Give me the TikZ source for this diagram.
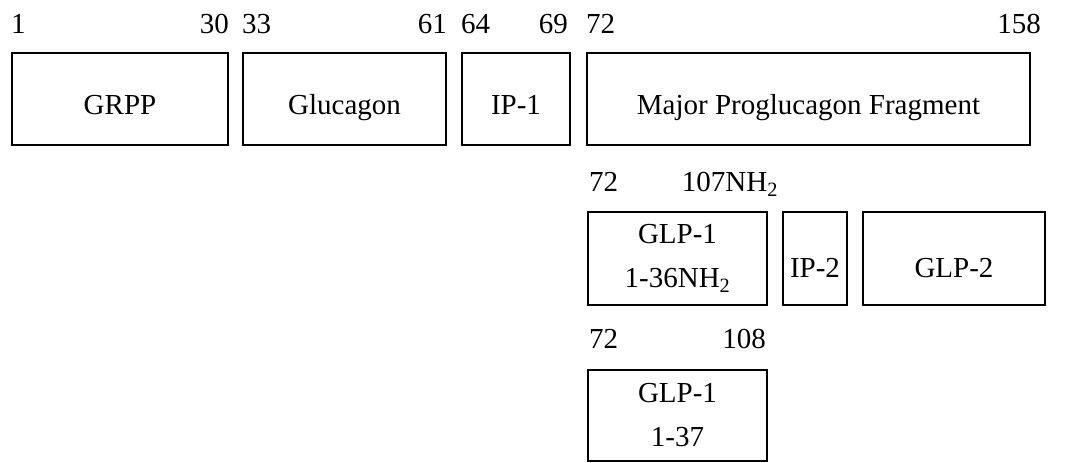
\documentclass[tikz,border=0pt]{standalone}
\usepackage{fontspec}
\setmainfont{Liberation Serif}
\usetikzlibrary{positioning}
\tikzset{
  segbox/.style={draw=black,line width=2.2pt,inner sep=0pt,
    minimum height=92pt,align=center},
  oneline/.style={text height=34pt,text depth=2pt},
  numleft/.style={anchor=base west,inner sep=0pt},
  numright/.style={anchor=base east,inner sep=0pt},
}

\begin{document}
\begin{tikzpicture}[x=1pt,y=1pt,font=\fontsize{29}{44}\selectfont]
  \useasboundingbox (0,0) rectangle (1069,463);
  % proglucagon
  \node[segbox,oneline,minimum width=216pt] (grpp) at (120,364) {GRPP};
  \node[segbox,oneline,minimum width=203pt] (gcg) at (344.5,364) {Glucagon};
  \node[segbox,oneline,minimum width=108pt] (ipa) at (516,364) {IP-1};
  \node[segbox,oneline,minimum width=443pt] (mpgf) at (808.5,364) {Major Proglucagon Fragment};
  \node[numleft] at ([yshift=18pt]grpp.north west) {1};
  \node[numright] at ([yshift=18pt]grpp.north east) {30};
  \node[numleft] at ([yshift=18pt]gcg.north west) {33};
  \node[numright] at ([yshift=18pt]gcg.north east) {61};
  \node[numleft] at ([yshift=18pt]ipa.north west) {64};
  \node[numright] at ([xshift=-3pt,yshift=18pt]ipa.north east) {69};
  \node[numleft] at ([yshift=18pt]mpgf.north west) {72};
  \node[numright] at ([xshift=10pt,yshift=18pt]mpgf.north east) {158};
  % major proglucagon fragment products
  \node[segbox,minimum width=179pt,minimum height=93pt] (glpa) at (677.5,204.5) {GLP-1\\1-36NH\textsubscript{2}};
  \node[segbox,text height=38pt,text depth=0pt,minimum width=64pt,minimum height=93pt] (ipb) at (815,204.5) {IP-2};
  \node[segbox,text height=38pt,text depth=0pt,minimum width=182pt,minimum height=93pt] (glpb) at (954,204.5) {GLP-2};
  \node[numleft] at ([xshift=2pt,yshift=19pt]glpa.north west) {72};
  \node[numright] at ([xshift=10pt,yshift=19pt]glpa.north east) {107NH\textsubscript{2}};
  % glycine-extended form
  \node[segbox,minimum width=179pt,minimum height=91pt] (glpc) at (677.5,47.5) {GLP-1\\1-37};
  \node[numleft] at ([xshift=2pt,yshift=20pt]glpc.north west) {72};
  \node[numright] at ([xshift=-2pt,yshift=20pt]glpc.north east) {108};
\end{tikzpicture}
\end{document}
